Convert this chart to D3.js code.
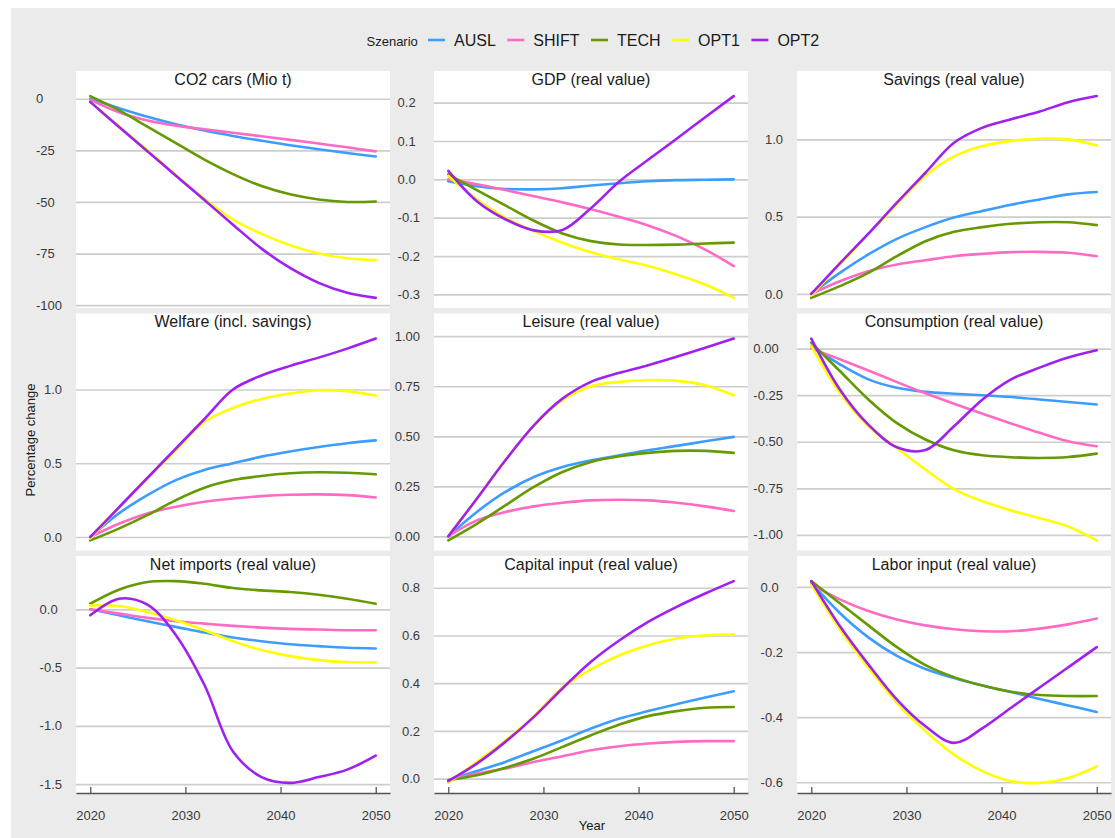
<!DOCTYPE html>
<html>
<head>
<meta charset="utf-8">
<script src="https://cdn.jsdelivr.net/npm/d3@7"></script>
<style>
body { margin: 0; background: #fff; }
text { font-family: Arial, "Liberation Sans", sans-serif; }
</style>
</head>
<body>
<svg id="chart" width="1115" height="838"></svg>
<script>
// values every 3 years, one row per scenario (AUSL, SHIFT, TECH, OPT1, OPT2)
var years = [2020, 2023, 2026, 2029, 2032, 2035, 2038, 2041, 2044, 2047, 2050];
var scenarios = ['AUSL', 'SHIFT', 'TECH', 'OPT1', 'OPT2'];
var colors = ['#3d9dff', '#ff6ac4', '#669900', '#ffff00', '#a020f0'];

var panelTitles = ['CO2 cars (Mio t)', 'GDP (real value)', 'Savings (real value)',
    'Welfare (incl. savings)', 'Leisure (real value)', 'Consumption (real value)',
    'Net imports (real value)', 'Capital input (real value)', 'Labor input (real value)'];

var co2Cars = [
    [0, -4.5, -8.7, -12.3, -15.4, -18, -20.3, -22.5, -24.5, -26.3, -28],
    [-0.5, -6.5, -10.5, -13, -14.8, -16.5, -18.2, -19.9, -21.7, -23.5, -25.5],
    [1.3, -5.5, -13.5, -21.5, -29.5, -36.5, -42.3, -46.3, -48.8, -50, -49.8],
    [-1.5, -13.3, -25, -37, -48.5, -58.5, -65.5, -71, -75, -77.3, -78.2],
    [-1.5, -13.6, -25.4, -37.3, -49.1, -61, -72.6, -82, -89.2, -94, -96.5]
];
var gdp = [
    [-0.005, -0.018, -0.025, -0.026, -0.023, -0.016, -0.01, -0.005, -0.002, -0.001, 0.0],
    [0, -0.013, -0.028, -0.044, -0.06, -0.078, -0.098, -0.12, -0.148, -0.183, -0.226],
    [0.013, -0.028, -0.068, -0.108, -0.141, -0.161, -0.17, -0.171, -0.17, -0.167, -0.165],
    [0.009, -0.052, -0.1, -0.135, -0.165, -0.19, -0.209, -0.226, -0.248, -0.274, -0.309],
    [0.022, -0.057, -0.104, -0.133, -0.132, -0.075, -0.005, 0.051, 0.106, 0.162, 0.217]
];
var savings = [
    [0, 0.136, 0.255, 0.356, 0.432, 0.494, 0.537, 0.577, 0.611, 0.644, 0.659],
    [0, 0.082, 0.147, 0.19, 0.218, 0.244, 0.259, 0.27, 0.272, 0.266, 0.244],
    [-0.026, 0.05, 0.136, 0.244, 0.341, 0.402, 0.432, 0.454, 0.464, 0.464, 0.445],
    [-0.01, 0.19, 0.385, 0.58, 0.765, 0.89, 0.957, 0.99, 1.004, 1.0, 0.961],
    [0, 0.197, 0.39, 0.59, 0.784, 0.978, 1.076, 1.13, 1.18, 1.24, 1.28]
];
var welfare = [
    [0, 0.16, 0.284, 0.386, 0.455, 0.5, 0.545, 0.58, 0.61, 0.636, 0.655],
    [0, 0.09, 0.16, 0.205, 0.239, 0.261, 0.277, 0.286, 0.289, 0.284, 0.268],
    [-0.023, 0.057, 0.148, 0.25, 0.334, 0.386, 0.414, 0.432, 0.439, 0.436, 0.425],
    [-0.01, 0.2, 0.4, 0.59, 0.78, 0.875, 0.936, 0.973, 0.995, 0.989, 0.959],
    [0, 0.2, 0.4, 0.6, 0.8, 1.0, 1.095, 1.16, 1.216, 1.277, 1.345]
];
var leisure = [
    [0, 0.122, 0.222, 0.297, 0.347, 0.38, 0.405, 0.43, 0.452, 0.475, 0.497],
    [0, 0.08, 0.122, 0.15, 0.168, 0.18, 0.183, 0.18, 0.168, 0.15, 0.127],
    [-0.02, 0.063, 0.155, 0.247, 0.322, 0.372, 0.4, 0.417, 0.427, 0.427, 0.417],
    [0, 0.188, 0.38, 0.553, 0.68, 0.75, 0.772, 0.78, 0.777, 0.755, 0.705],
    [0, 0.188, 0.38, 0.555, 0.688, 0.772, 0.817, 0.855, 0.897, 0.942, 0.988]
];
var consumption = [
    [0.015, -0.084, -0.165, -0.21, -0.232, -0.242, -0.25, -0.26, -0.273, -0.287, -0.3],
    [0, -0.057, -0.117, -0.18, -0.24, -0.296, -0.35, -0.402, -0.452, -0.497, -0.524],
    [0.032, -0.12, -0.273, -0.4, -0.488, -0.546, -0.573, -0.583, -0.587, -0.582, -0.564],
    [0.014, -0.237, -0.417, -0.533, -0.65, -0.754, -0.82, -0.869, -0.91, -0.955, -1.03],
    [0.054, -0.219, -0.408, -0.53, -0.545, -0.417, -0.273, -0.165, -0.102, -0.048, -0.009]
];
var netImports = [
    [0, -0.051, -0.103, -0.151, -0.2, -0.242, -0.274, -0.3, -0.316, -0.33, -0.336],
    [0, -0.037, -0.074, -0.103, -0.123, -0.142, -0.157, -0.168, -0.174, -0.18, -0.18],
    [0.048, 0.168, 0.234, 0.242, 0.219, 0.182, 0.162, 0.148, 0.125, 0.091, 0.048],
    [0.034, 0.028, -0.023, -0.094, -0.18, -0.274, -0.35, -0.402, -0.436, -0.453, -0.456],
    [-0.051, 0.091, 0.04, -0.222, -0.65, -1.22, -1.44, -1.49, -1.44, -1.376, -1.256]
];
var capital = [
    [-0.007, 0.032, 0.07, 0.116, 0.161, 0.21, 0.252, 0.283, 0.312, 0.34, 0.366],
    [-0.007, 0.021, 0.042, 0.07, 0.094, 0.119, 0.136, 0.147, 0.154, 0.157, 0.157],
    [-0.007, 0.014, 0.046, 0.084, 0.133, 0.182, 0.227, 0.262, 0.283, 0.297, 0.3],
    [-0.018, 0.07, 0.16, 0.262, 0.382, 0.458, 0.517, 0.559, 0.587, 0.601, 0.604],
    [-0.01, 0.063, 0.154, 0.259, 0.378, 0.49, 0.58, 0.657, 0.72, 0.776, 0.828]
];
var labor = [
    [0.013, -0.08, -0.155, -0.212, -0.252, -0.28, -0.303, -0.323, -0.344, -0.364, -0.384],
    [0.008, -0.038, -0.074, -0.1, -0.118, -0.13, -0.136, -0.136, -0.128, -0.115, -0.097],
    [0.018, -0.05, -0.118, -0.185, -0.24, -0.277, -0.303, -0.322, -0.332, -0.335, -0.335],
    [0.008, -0.13, -0.248, -0.356, -0.443, -0.515, -0.566, -0.597, -0.602, -0.587, -0.551],
    [0.018, -0.12, -0.238, -0.346, -0.428, -0.479, -0.434, -0.371, -0.309, -0.247, -0.185]
];

var co2Ticks = ['0', '-25', '-50', '-75', '-100'];
var gdpTicks = ['0.2', '0.1', '0.0', '-0.1', '-0.2', '-0.3'];
var savingsTicks = ['1.0', '0.5', '0.0'];
var welfareTicks = ['1.0', '0.5', '0.0'];
var leisureTicks = ['1.00', '0.75', '0.50', '0.25', '0.00'];
var consumptionTicks = ['0.00', '-0.25', '-0.50', '-0.75', '-1.00'];
var netImportsTicks = ['0.0', '-0.5', '-1.0', '-1.5'];
var capitalTicks = ['0.8', '0.6', '0.4', '0.2', '0.0'];
var laborTicks = ['0.0', '-0.2', '-0.4', '-0.6'];
var yearTicks = [2020, 2030, 2040, 2050];

var panelValues = [co2Cars, gdp, savings, welfare, leisure, consumption, netImports, capital, labor];
var panelTicks = [co2Ticks, gdpTicks, savingsTicks, welfareTicks, leisureTicks,
    consumptionTicks, netImportsTicks, capitalTicks, laborTicks];

var colLeft = [76, 434, 797];
var rowTop = [71, 313.5, 556];
var panelW = 314, stripH = 15, plotH = 222;

var svg = d3.select('#chart');

svg.append('rect')
    .attr('x', 11).attr('y', 8)
    .attr('width', 1104).attr('height', 830)
    .attr('fill', '#ebebeb');

var x = d3.scaleLinear().domain([2018.5, 2051.5]).range([0, panelW]);

panelValues.forEach(function(values, i){
    var col = i % 3, row = Math.floor(i / 3);
    var g = svg.append('g')
        .attr('transform', 'translate(' + colLeft[col] + ',' + rowTop[row] + ')');

    g.append('rect')
        .attr('width', panelW)
        .attr('height', stripH + plotH)
        .attr('fill', '#ffffff');

    // ggplot style 5% expansion of the data range
    var ext = d3.extent(d3.merge(values));
    var pad = (ext[1] - ext[0]) * 0.05;
    var y = d3.scaleLinear()
        .domain([ext[0] - pad, ext[1] + pad])
        .range([stripH + plotH, stripH]);

    var tickLabels = panelTicks[i];
    var tickVals = tickLabels.map(function(t){ return +t; });

    // grid
    var grid = g.append('g')
        .call(d3.axisLeft(y).tickValues(tickVals).tickSize(-panelW).tickFormat(''));
    grid.select('.domain').remove();
    grid.selectAll('line').attr('stroke', '#cdcdcd').attr('stroke-width', 1.7);

    // y labels, left aligned as in the original
    var yAxis = g.append('g')
        .call(d3.axisLeft(y).tickValues(tickVals).tickSize(0)
            .tickFormat(function(d, j){ return tickLabels[j]; }));
    yAxis.select('.domain').remove();
    var labels = yAxis.selectAll('text')
        .attr('font-size', 13)
        .attr('font-family', 'Arial, "Liberation Sans", sans-serif')
        .attr('fill', '#3a3a3a');
    var maxW = 0;
    labels.each(function(){ maxW = Math.max(maxW, this.getComputedTextLength()); });
    labels.attr('text-anchor', 'start').attr('x', -14 - maxW);

    g.append('text')
        .attr('x', panelW / 2)
        .attr('y', 13.8)
        .attr('text-anchor', 'middle')
        .attr('font-size', 16)
        .attr('fill', '#1a1a1a')
        .text(panelTitles[i]);

    var line = d3.line()
        .x(function(d, j){ return x(years[j]); })
        .y(function(d){ return y(d); })
        .curve(d3.curveCatmullRom.alpha(0.5));

    g.selectAll('path.series')
        .data(values)
        .enter()
        .append('path')
        .attr('class', 'series')
        .attr('d', line)
        .attr('fill', 'none')
        .attr('stroke-width', 2.6)
        .attr('stroke-linecap', 'round')
        .attr('stroke', function(d, j){ return colors[j]; });

    if (row === 2) {
        var xAxis = g.append('g')
            .attr('transform', 'translate(0,' + (stripH + plotH) + ')')
            .call(d3.axisBottom(x).tickValues(yearTicks).tickSize(-6).tickSizeOuter(0)
                .tickPadding(17.3).tickFormat(d3.format('d')));
        xAxis.select('.domain').attr('stroke', '#555').attr('stroke-width', 1.3);
        xAxis.selectAll('line').attr('stroke', '#555').attr('stroke-width', 1.3);
        xAxis.selectAll('text')
            .attr('font-size', 13)
            .attr('font-family', 'Arial, "Liberation Sans", sans-serif')
            .attr('fill', '#3a3a3a');
    }
});

// axis titles
svg.append('text')
    .attr('x', colLeft[1] + panelW / 2 + 1)
    .attr('y', 830)
    .attr('text-anchor', 'middle')
    .attr('font-size', 13)
    .attr('fill', '#1a1a1a')
    .text('Year');

svg.append('text')
    .attr('transform', 'translate(35,440) rotate(-90)')
    .attr('text-anchor', 'middle')
    .attr('font-size', 13)
    .attr('fill', '#1a1a1a')
    .text('Percentage change');

// legend
var legend = svg.append('g').attr('transform', 'translate(0,40)');
legend.append('text')
    .attr('x', 366.5)
    .attr('y', 5.5)
    .attr('font-size', 13)
    .attr('fill', '#1a1a1a')
    .text('Szenario');

var lx = 428;
scenarios.forEach(function(s, i){
    legend.append('line')
        .attr('x1', lx).attr('x2', lx + 17)
        .attr('y1', 0).attr('y2', 0)
        .attr('stroke', colors[i])
        .attr('stroke-width', 2.6);
    var t = legend.append('text')
        .attr('x', lx + 26)
        .attr('y', 6.3)
        .attr('font-size', 16)
        .attr('fill', '#1a1a1a')
        .text(s);
    lx = lx + 26 + t.node().getComputedTextLength() + 11.5;
});
</script>
</body>
</html>
